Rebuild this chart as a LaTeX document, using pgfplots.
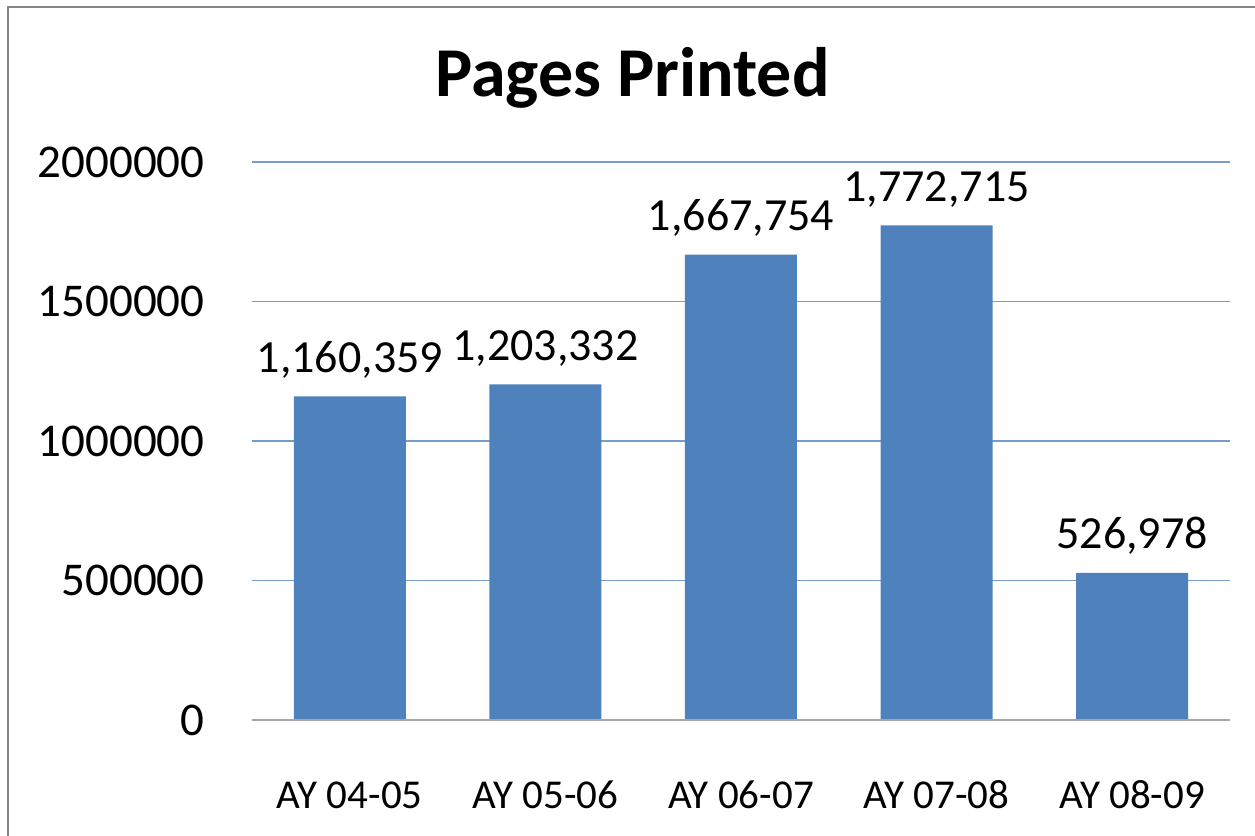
\documentclass[border=0pt]{standalone}
\usepackage{pgfplots}
\pgfplotsset{compat=1.18}
\usepackage{fontspec}
\setmainfont{Carlito}
\definecolor{barblue}{RGB}{79,129,189}
\definecolor{gridblue}{RGB}{120,155,205}
\definecolor{axgray}{RGB}{166,166,166}
\definecolor{framegray}{RGB}{134,134,134}
\begin{document}
\begin{tikzpicture}[x=1pt,y=1pt]
\useasboundingbox (0,0) rectangle (627.5,418);
\draw[framegray, line width=1.3pt] (4,-10) -- (4,414.5) -- (640,414.5);
\node[anchor=base, inner sep=0pt, font=\fontsize{35}{42}\selectfont\bfseries] at (316.25,369.5) {Pages Printed};
\begin{axis}[
  at={(126pt,58pt)}, anchor=south west,
  scale only axis, width=489pt, height=279pt,
  xmin=-0.5, xmax=4.5, ymin=0, ymax=2000000,
  axis line style={draw=none},
  tick style={draw=none},
  ymajorgrids, grid style={gridblue, line width=0.6pt},
  ytick={0,500000,1000000,1500000,2000000},
  scaled y ticks=false,
  xtick={0,1,2,3,4},
  xticklabels={AY 04-05,AY 05-06,AY 06-07,AY 07-08,AY 08-09},
  /pgf/number format/assume math mode=true,
  yticklabel style={/pgf/number format/1000 sep={}, /pgf/number format/fixed, anchor=east, inner sep=0pt, xshift=-23.5pt, font=\fontsize{23.5}{28}\selectfont},
  xticklabel style={anchor=base, inner sep=0pt, yshift=-40pt, font=\fontsize{20.5}{25}\selectfont},
  ybar, bar width=56pt,
  nodes near coords,
  nodes near coords style={anchor=base, inner sep=0pt, yshift=12pt, font=\fontsize{23}{28}\selectfont, /pgf/number format/1000 sep={,}, /pgf/number format/fixed},
  clip=false,
]
\addplot[fill=barblue, draw=none] coordinates {(0,1160359) (1,1203332) (2,1667754) (3,1772715) (4,526978)};
\draw[axgray, line width=1pt] (axis cs:-0.5,0) -- (axis cs:4.5,0);
\end{axis}
\end{tikzpicture}
\end{document}
